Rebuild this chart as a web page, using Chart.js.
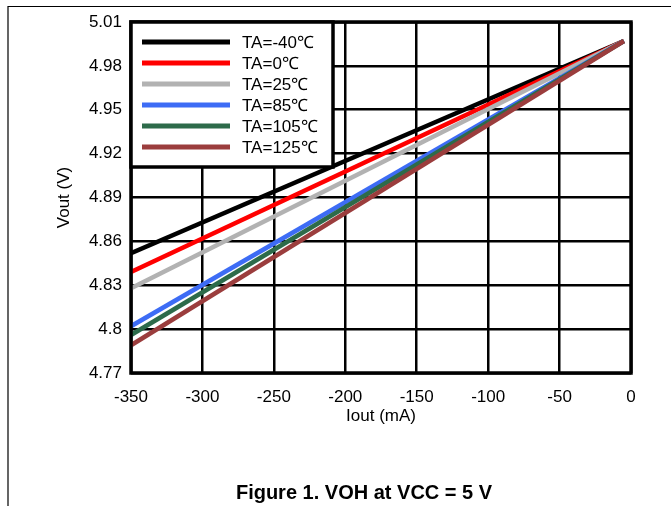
<!DOCTYPE html>
<html lang="en">
<head>
<meta charset="UTF-8">
<title>VOH at VCC = 5 V</title>
<style>
  html, body { margin: 0; padding: 0; background: #fff; }
  #wrap { position: relative; width: 671px; height: 506px; }
</style>
</head>
<body>
<div id="wrap"><canvas id="vohChart" width="671" height="506"></canvas></div>
<script src="https://cdn.jsdelivr.net/npm/chart.js"></script>
<script>
// Output current sweep (mA); the curves are straight lines between these ends
const ioutPoints = [-350, -5];

// Vout (V) at each current point, one array per temperature
const voutM40 = [4.852, 4.997];
const vout0   = [4.839, 4.997];
const vout25  = [4.828, 4.997];
const vout85  = [4.802, 4.997];
const vout105 = [4.796, 4.997];
const vout125 = [4.789, 4.997];

const seriesNames = ['TA=-40℃', 'TA=0℃', 'TA=25℃', 'TA=85℃', 'TA=105℃', 'TA=125℃'];
const seriesValues = [voutM40, vout0, vout25, vout85, vout105, vout125];
const seriesColors = ['#000000', '#ff0000', '#b2b2b2', '#3d6cf5', '#2d6b4a', '#9b3d3d'];

// Axis tick labels
const xTicks = [-350, -300, -250, -200, -150, -100, -50, 0];
const yTicks = [4.77, 4.8, 4.83, 4.86, 4.89, 4.92, 4.95, 4.98, 5.01];

const FONT = "Arial, 'Liberation Sans', sans-serif";
const FONT_SIZE = 17;
Chart.defaults.font.family = FONT;
Chart.defaults.font.size = FONT_SIZE;
Chart.defaults.color = '#000';

const datasets = seriesValues.map((vals, i) => ({
    label: seriesNames[i],
    data: vals.map((v, k) => ({ x: ioutPoints[k], y: v })),
    borderColor: seriesColors[i],
    backgroundColor: seriesColors[i],
    borderWidth: 4.5,
    pointRadius: 0,
    tension: 0,
    order: seriesValues.length - i   // later temperatures drawn on top
}));

// heavy frame round the plot, boxed legend, page border and caption
const decorations = {
    id: 'decorations',
    afterDatasetsDraw(chart) {
        const { ctx, chartArea: a } = chart;
        ctx.save();
        ctx.strokeStyle = '#000';
        ctx.lineWidth = 3.5;
        ctx.strokeRect(a.left, a.top, a.right - a.left, a.bottom - a.top);

        // legend box in the top-left corner
        const bx = a.left, by = a.top, bw = 202, bh = 145;
        ctx.fillStyle = '#fff';
        ctx.fillRect(bx, by, bw, bh);
        ctx.strokeRect(bx, by, bw, bh);
        ctx.font = FONT_SIZE + 'px ' + FONT;
        ctx.textBaseline = 'middle';
        ctx.textAlign = 'left';
        chart.data.datasets.forEach((ds, i) => {
            const y = by + 20 + i * 21;
            ctx.strokeStyle = ds.borderColor;
            ctx.lineWidth = 5;
            ctx.beginPath();
            ctx.moveTo(bx + 11, y);
            ctx.lineTo(bx + 99, y);
            ctx.stroke();
            ctx.fillStyle = '#000';
            ctx.fillText(ds.label, bx + 111, y + 1);
        });
        ctx.restore();
    },
    afterDraw(chart) {
        const { ctx } = chart;
        ctx.save();
        ctx.strokeStyle = '#000';
        ctx.lineWidth = 1.2;
        ctx.beginPath();
        ctx.moveTo(8, 506);
        ctx.lineTo(8, 6.5);
        ctx.lineTo(671, 6.5);
        ctx.stroke();
        ctx.fillStyle = '#000';
        ctx.font = 'bold 20px ' + FONT;
        ctx.textAlign = 'center';
        ctx.textBaseline = 'alphabetic';
        ctx.fillText('Figure 1. VOH at VCC = 5 V', 364, 499);
        ctx.restore();
    }
};

new Chart(document.getElementById('vohChart'), {
    type: 'line',
    data: { datasets },
    options: {
        responsive: false,
        animation: false,
        layout: { padding: { left: 0, top: 22, right: 40, bottom: 73 } },
        plugins: { legend: { display: false }, tooltip: { enabled: false } },
        scales: {
            x: {
                type: 'linear',
                min: -350,
                max: 0,
                afterBuildTicks: s => { s.ticks = xTicks.map(v => ({ value: v })); },
                afterFit: s => { s.height = 60; },
                ticks: { padding: 14, callback: v => String(v) },
                grid: { color: '#000', lineWidth: 2.5, drawTicks: false },
                border: { display: false },
                title: { display: true, text: 'Iout (mA)', padding: { top: 0, bottom: 6 } }
            },
            y: {
                type: 'linear',
                min: 4.77,
                max: 5.01,
                afterBuildTicks: s => { s.ticks = yTicks.map(v => ({ value: v })); },
                afterFit: s => { s.width = 131; },
                ticks: { padding: 9, callback: v => String(v) },
                grid: { color: '#000', lineWidth: 2.5, drawTicks: false },
                border: { display: false },
                title: { display: true, text: 'Vout (V)', padding: { top: 54, bottom: 0 } }
            }
        }
    },
    plugins: [decorations]
});
</script>
</body>
</html>
